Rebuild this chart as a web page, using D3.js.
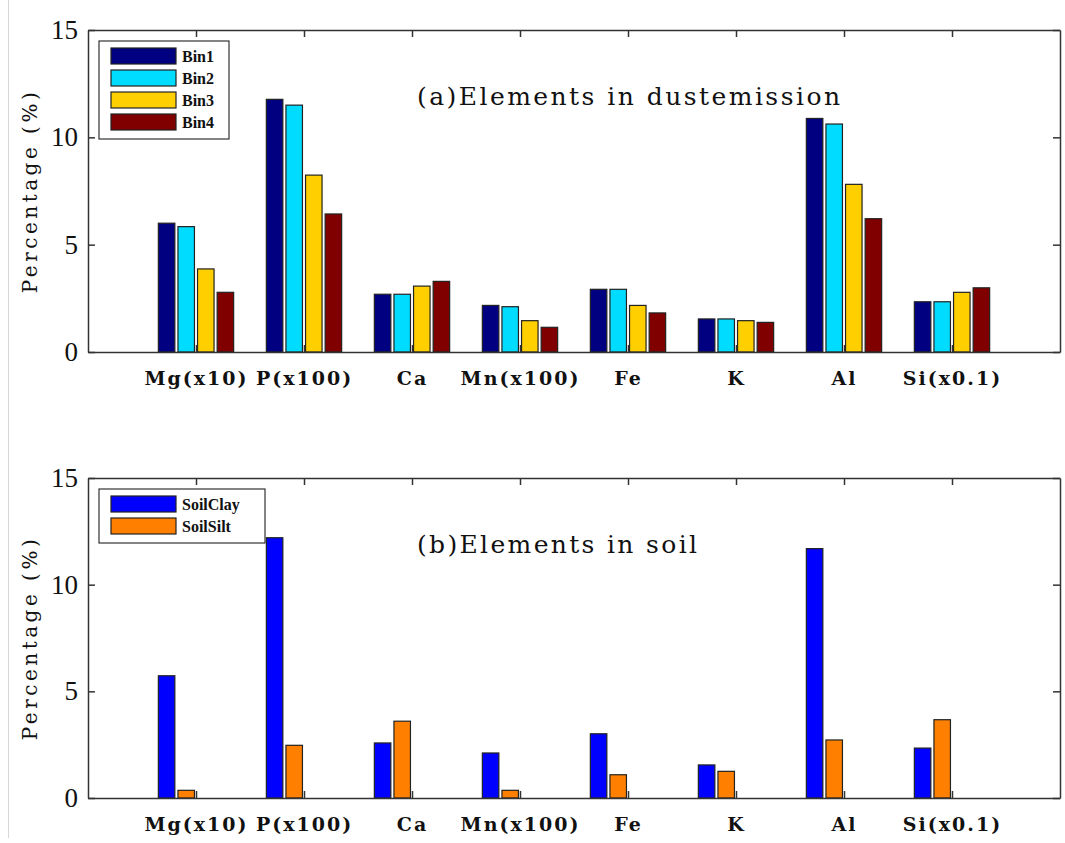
<!DOCTYPE html>
<html>
<head>
<meta charset="utf-8">
<script src="https://cdn.jsdelivr.net/npm/d3@7"></script>
<style>
  body { margin: 0; background: #fff; }
  svg { display: block; }
</style>
</head>
<body>
<svg id="chart" width="1065" height="843"></svg>
<script>
// categories and tick labels
const elements = ['Mg(x10)', 'P(x100)', 'Ca', 'Mn(x100)', 'Fe', 'K', 'Al', 'Si(x0.1)'];
const yTicks = [0, 5, 10, 15];

// (a) dust emission bins
const bin1 = [6.0, 11.77, 2.69, 2.17, 2.92, 1.54, 10.88, 2.34];
const bin2 = [5.84, 11.5, 2.69, 2.11, 2.92, 1.54, 10.62, 2.34];
const bin3 = [3.87, 8.24, 3.07, 1.46, 2.17, 1.46, 7.81, 2.78];
const bin4 = [2.78, 6.43, 3.29, 1.15, 1.82, 1.38, 6.21, 2.99];

// (b) soil
const soilClay = [5.73, 12.2, 2.58, 2.11, 3.01, 1.55, 11.69, 2.34];
const soilSilt = [0.36, 2.47, 3.6, 0.36, 1.09, 1.25, 2.72, 3.67];

const svg = d3.select('#chart');
const serif = '"DejaVu Serif", serif';
const times = '"Liberation Serif", serif';

// faint figure border on the left
svg.append('line')
  .attr('x1', 8.5).attr('x2', 8.5).attr('y1', 0).attr('y2', 838)
  .attr('stroke', '#d8d8d8').attr('stroke-width', 1);

const x = d3.scaleLinear().domain([0, 9]).range([88, 1060]);
const pitch = 19.6, barW = 16.5;

function panel(top, bottom, series, colors, names, title, legendW) {
  const y = d3.scaleLinear().domain([0, 15]).range([bottom, top]);
  const g = svg.append('g');

  // bars
  series.forEach((vals, j) => {
    g.selectAll(null)
      .data(vals)
      .join('rect')
      .attr('x', (d, i) => x(i + 1) + (j - 1.5) * pitch - barW / 2)
      .attr('y', d => y(d))
      .attr('width', barW)
      .attr('height', d => y(0) - y(d))
      .attr('fill', colors[j])
      .attr('stroke', '#222')
      .attr('stroke-width', 1.2);
  });

  // axes, ticks pointing inward
  const ax = d3.axisBottom(x)
    .tickValues(d3.range(1, 9))
    .tickSizeInner(-7).tickSizeOuter(0)
    .tickPadding(20)
    .tickFormat(i => elements[i - 1]);
  const gx = g.append('g').attr('transform', `translate(0,${bottom})`).call(ax);
  gx.selectAll('text')
    .style('font-family', serif).style('font-size', '19px').style('font-weight', 'bold')
    .style('letter-spacing', '2px').attr('fill', '#111');

  const axTop = d3.axisTop(x).tickValues(d3.range(1, 9)).tickSizeInner(-7).tickSizeOuter(0).tickFormat('');
  g.append('g').attr('transform', `translate(0,${top})`).call(axTop);

  const ay = d3.axisLeft(y).tickValues(yTicks).tickSizeInner(-7).tickSizeOuter(0).tickPadding(10);
  const gy = g.append('g').attr('transform', `translate(${x(0)},0)`).call(ay);
  gy.selectAll('text').style('font-family', times).style('font-size', '27px').attr('fill', '#111');

  const ayR = d3.axisRight(y).tickValues(yTicks).tickSizeInner(-7).tickSizeOuter(0).tickFormat('');
  g.append('g').attr('transform', `translate(${x(9)},0)`).call(ayR);

  g.selectAll('.domain, .tick line').attr('stroke', '#333').attr('stroke-width', 1.5);
  g.selectAll('.tick text').filter(function () { return this.textContent === ''; }).remove();

  // y label
  g.append('text')
    .attr('transform', `translate(37,${(top + bottom) / 2}) rotate(-90)`)
    .attr('text-anchor', 'middle')
    .style('font-family', serif).style('font-size', '20px')
    .style('letter-spacing', '3.5px').attr('fill', '#111')
    .text('Percentage (%)');

  // title
  g.append('text')
    .attr('x', 417).attr('y', top + 75)
    .style('font-family', serif).style('font-size', '25px')
    .attr('textLength', title.w).attr('lengthAdjust', 'spacing')
    .attr('fill', '#111')
    .text(title.text);

  // legend
  const lg = g.append('g').attr('transform', `translate(99,${top + 11})`);
  lg.append('rect')
    .attr('width', legendW).attr('height', 10 + names.length * 22)
    .attr('fill', '#fff').attr('stroke', '#333').attr('stroke-width', 1.2);
  names.forEach((n, j) => {
    lg.append('rect')
      .attr('x', 12).attr('y', 7 + j * 22)
      .attr('width', 65).attr('height', 16)
      .attr('fill', colors[j]).attr('stroke', '#222').attr('stroke-width', 1.2);
    lg.append('text')
      .attr('x', 83).attr('y', 21 + j * 22)
      .style('font-family', times).style('font-size', '16px').style('font-weight', 'bold')
      .attr('fill', '#111')
      .text(n);
  });
}

panel(30, 352, [bin1, bin2, bin3, bin4],
  ['#000080', '#00dcff', '#ffcf00', '#800000'],
  ['Bin1', 'Bin2', 'Bin3', 'Bin4'],
  { text: '(a)Elements in dustemission', w: 423 }, 130);

panel(478, 798, [soilClay, soilSilt],
  ['#0000ff', '#ff8000'],
  ['SoilClay', 'SoilSilt'],
  { text: '(b)Elements in soil', w: 280 }, 166);
</script>
</body>
</html>
